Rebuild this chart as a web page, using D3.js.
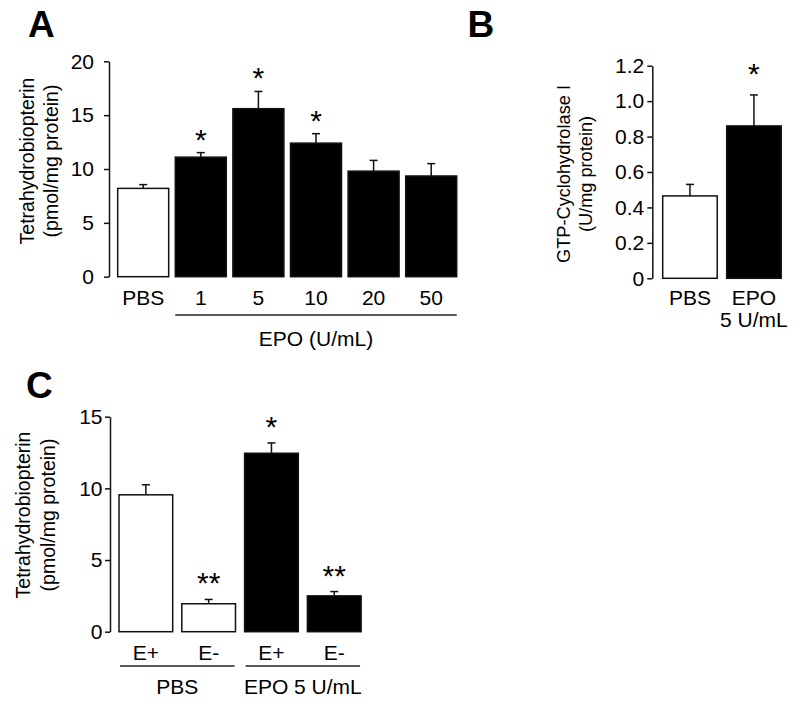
<!DOCTYPE html>
<html>
<head>
<meta charset="utf-8">
<script src="https://cdn.jsdelivr.net/npm/d3@7"></script>
<style>
  html, body { margin: 0; padding: 0; background: #fff; }
  svg { display: block; font-family: "Liberation Sans", Arial, sans-serif; }
</style>
</head>
<body>
<svg id="chart" width="800" height="704"></svg>
<script>
// ---------- Data ----------
// Panel A: tetrahydrobiopterin vs EPO dose
const catsA = ["PBS", "1", "5", "10", "20", "50"];
const valA  = [8.2, 11.1, 15.6, 12.4, 9.8, 9.35];
const errA  = [0.35, 0.42, 1.6, 0.88, 1.0, 1.15];
const sigA  = ["", "*", "*", "*", "", ""];
const fillA = ["white", "black", "black", "black", "black", "black"];
const ticksA = [0, 5, 10, 15, 20];
const groupA = "EPO (U/mL)";

// Panel B: GTP-cyclohydrolase I
const catsB  = ["PBS", "EPO"];
const subB   = ["", "5 U/mL"];
const valB   = [0.465, 0.86];
const errB   = [0.065, 0.175];
const sigB   = ["", "*"];
const fillB  = ["white", "black"];
const ticksB = [0, 0.2, 0.4, 0.6, 0.8, 1.0, 1.2];

// Panel C: tetrahydrobiopterin, E+ / E-
const catsC  = ["E+", "E-", "E+", "E-"];
const valC   = [9.55, 1.95, 12.45, 2.5];
const errC   = [0.7, 0.3, 0.72, 0.3];
const sigC   = ["", "**", "*", "**"];
const fillC  = ["white", "white", "black", "black"];
const ticksC = [0, 5, 10, 15];
const groupsC = ["PBS", "EPO 5 U/mL"];

// ---------- Drawing ----------
const svg = d3.select("#chart");
const FS = 21;
const INK = "#000";

function panel(cfg) {
  const g = svg.append("g");
  const idx = cfg.cats.map((d, i) => i);
  const x = d3.scaleBand().domain(idx).range(cfg.xRange)
    .paddingInner(cfg.pad).paddingOuter(0);
  const y = d3.scaleLinear().domain(cfg.yDomain).range(cfg.yRange);

  // axis
  const ax = g.append("g")
    .attr("transform", `translate(${cfg.axisX},0)`)
    .call(d3.axisLeft(y).tickValues(cfg.ticks).tickFormat(cfg.fmt)
      .tickSize(5).tickSizeOuter(0).tickPadding(cfg.tickPad));
  ax.select(".domain").attr("stroke", "#111").attr("stroke-width", 1.5);
  ax.selectAll(".tick line").attr("stroke", "#111").attr("stroke-width", 1.5);
  ax.selectAll(".tick text").attr("font-size", FS).attr("fill", INK)
    .attr("font-family", "Liberation Sans, Arial, sans-serif");

  // error bars
  const eg = g.append("g");
  idx.forEach(i => {
    const cx = x(i) + x.bandwidth() / 2;
    const top = y(cfg.vals[i] + cfg.errs[i]);
    eg.append("line").attr("x1", cx).attr("x2", cx)
      .attr("y1", y(cfg.vals[i])).attr("y2", top)
      .attr("stroke", "#111").attr("stroke-width", 1.5);
    eg.append("line").attr("x1", cx - 4).attr("x2", cx + 4)
      .attr("y1", top).attr("y2", top)
      .attr("stroke", "#111").attr("stroke-width", 1.5);
  });

  // bars
  g.append("g").selectAll("rect").data(idx).join("rect")
    .attr("x", i => x(i))
    .attr("y", i => y(cfg.vals[i]))
    .attr("width", x.bandwidth())
    .attr("height", i => y(0) - y(cfg.vals[i]))
    .attr("fill", i => cfg.fills[i])
    .attr("stroke", "#111").attr("stroke-width", 1.5);

  // significance stars
  g.append("g").selectAll("text").data(idx.filter(i => cfg.sig[i])).join("text")
    .attr("x", i => x(i) + x.bandwidth() / 2)
    .attr("y", i => y(cfg.vals[i] + cfg.errs[i]) - cfg.starOff + 17)
    .attr("text-anchor", "middle")
    .attr("font-size", 30)
    .attr("fill", INK)
    .text(i => cfg.sig[i]);

  // category labels
  g.append("g").selectAll("text").data(idx).join("text")
    .attr("x", i => x(i) + x.bandwidth() / 2)
    .attr("y", cfg.catY)
    .attr("text-anchor", "middle")
    .attr("font-size", FS).attr("fill", INK)
    .text(i => cfg.cats[i]);
  if (cfg.sub) {
    g.append("g").selectAll("text").data(idx.filter(i => cfg.sub[i])).join("text")
      .attr("x", i => x(i) + x.bandwidth() / 2)
      .attr("y", cfg.catY + 22)
      .attr("text-anchor", "middle")
      .attr("font-size", FS).attr("fill", INK)
      .text(i => cfg.sub[i]);
  }

  // group lines and labels
  (cfg.groups || []).forEach(gr => {
    const x1 = x(gr.from) + gr.inset, x2 = x(gr.to) + x.bandwidth() - gr.inset;
    g.append("line").attr("x1", x1).attr("x2", x2)
      .attr("y1", cfg.groupLineY).attr("y2", cfg.groupLineY)
      .attr("stroke", "#222").attr("stroke-width", 1.5);
    g.append("text").attr("x", (x1 + x2) / 2).attr("y", cfg.groupLabelY)
      .attr("text-anchor", "middle").attr("font-size", FS).attr("fill", INK)
      .text(gr.label);
  });

  // y title (two lines, rotated)
  cfg.title.forEach((t, k) => {
    g.append("text")
      .attr("transform", `translate(${cfg.titleX[k]},${cfg.titleY}) rotate(-90)`)
      .attr("dy", "0.35em")
      .attr("text-anchor", "middle")
      .attr("font-size", cfg.titleFS).attr("fill", INK)
      .text(t);
  });

  // panel letter
  g.append("text").attr("x", cfg.letterX).attr("y", cfg.letterY)
    .attr("font-size", 37).attr("font-weight", "bold").attr("fill", INK)
    .text(cfg.letter);
}

panel({
  letter: "A", letterX: 28, letterY: 37,
  cats: catsA, vals: valA, errs: errA, sig: sigA, fills: fillA,
  xRange: [117.7, 456.7], pad: 0.115,
  yDomain: [0, 20], yRange: [276.7, 61.3], ticks: ticksA, fmt: d3.format("d"),
  axisX: 109, tickPad: 10, starOff: 20, catY: 304.5,
  groups: [{ from: 1, to: 5, inset: 0, label: groupA }],
  groupLineY: 315, groupLabelY: 346,
  title: ["Tetrahydrobiopterin", "(pmol/mg protein)"], titleX: [27, 51], titleY: 161, titleFS: 19.5
});

panel({
  letter: "B", letterX: 467.5, letterY: 37,
  cats: catsB, sub: subB, vals: valB, errs: errB, sig: sigB, fills: fillB,
  xRange: [662.7, 781.2], pad: 0.148,
  yDomain: [0, 1.2], yRange: [278.3, 65.7], ticks: ticksB,
  fmt: d => d === 0 ? "0" : d3.format(".1f")(d),
  axisX: 652.3, tickPad: 3, starOff: 28, catY: 305,
  title: ["GTP-Cyclohydrolase I", "(U/mg protein)"], titleX: [564, 586], titleY: 174, titleFS: 18.2
});

panel({
  letter: "C", letterX: 26, letterY: 398,
  cats: catsC, vals: valC, errs: errC, sig: sigC, fills: fillC,
  xRange: [119, 361.1], pad: 0.145,
  yDomain: [0, 15], yRange: [631.7, 416.7], ticks: ticksC, fmt: d3.format("d"),
  axisX: 110, tickPad: 2.5, starOff: 23, catY: 660,
  groups: [{ from: 0, to: 1, inset: 1, label: groupsC[0] },
           { from: 2, to: 3, inset: 1, label: groupsC[1] }],
  groupLineY: 666, groupLabelY: 694,
  title: ["Tetrahydrobiopterin", "(pmol/mg protein)"], titleX: [23, 48], titleY: 515, titleFS: 19.5
});
</script>
</body>
</html>
